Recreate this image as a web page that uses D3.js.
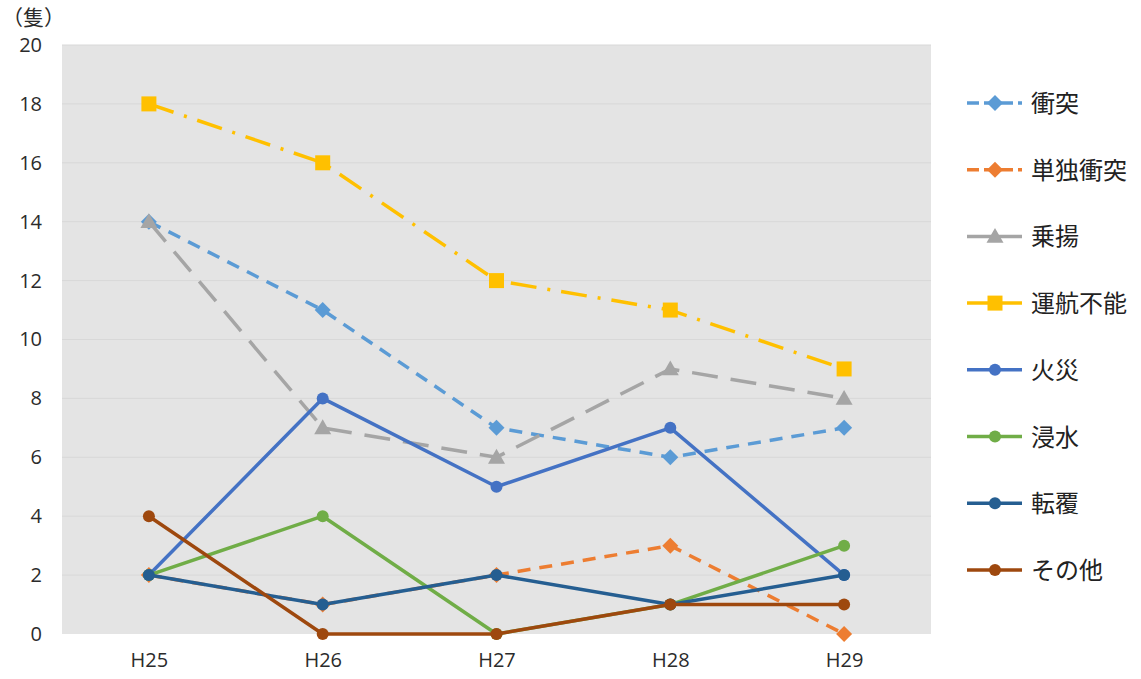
<!DOCTYPE html>
<html lang="ja">
<head>
<meta charset="utf-8">
<script src="https://cdn.jsdelivr.net/npm/d3@7"></script>
<style>
  html, body { margin: 0; padding: 0; background: #ffffff; }
  svg { display: block; font-family: "Noto Sans CJK JP", "Noto Sans", sans-serif; }
</style>
</head>
<body>
<svg id="chart" width="1141" height="679"></svg>
<script>
// Fiscal years (Heisei)
const years = ["H25", "H26", "H27", "H28", "H29"];
const yTicks = [0, 2, 4, 6, 8, 10, 12, 14, 16, 18, 20];

// Accident counts per category (vessels)
const names = ["衝突", "単独衝突", "乗揚", "運航不能", "火災", "浸水", "転覆", "その他"];
const collision      = [14, 11, 7, 6, 7];
const soloCollision  = [2, 1, 2, 3, 0];
const grounding      = [14, 7, 6, 9, 8];
const disabled       = [18, 16, 12, 11, 9];
const fire           = [2, 8, 5, 7, 2];
const flooding       = [2, 4, 0, 1, 3];
const capsize        = [2, 1, 2, 1, 2];
const other          = [4, 0, 0, 1, 1];
const seriesValues = [collision, soloCollision, grounding, disabled, fire, flooding, capsize, other];

// Styling per series
const styles = [
  { color: "#5B9BD5", dash: "13,9",         marker: "diamond" },
  { color: "#ED7D31", dash: "13,9",         marker: "diamond" },
  { color: "#A5A5A5", dash: "26,13",        marker: "triangle" },
  { color: "#FFC000", dash: "26,11,3,11",   marker: "square" },
  { color: "#4472C4", dash: null,           marker: "circle" },
  { color: "#70AD47", dash: null,           marker: "circle" },
  { color: "#255E91", dash: null,           marker: "circle" },
  { color: "#9E480E", dash: null,           marker: "circle" }
];

const svg = d3.select("#chart");
const plot = { left: 62, right: 931, top: 45, bottom: 634 };

const x = d3.scalePoint().domain(years).range([plot.left, plot.right]).padding(0.5);
const y = d3.scaleLinear().domain([0, 20]).range([plot.bottom, plot.top]);

// Plot background
svg.append("rect")
  .attr("x", plot.left).attr("y", plot.top)
  .attr("width", plot.right - plot.left).attr("height", plot.bottom - plot.top)
  .attr("fill", "#e4e4e4");

// Horizontal gridlines
svg.append("g").selectAll("line").data(yTicks.filter(d => d > 0)).join("line")
  .attr("x1", plot.left).attr("x2", plot.right)
  .attr("y1", d => y(d)).attr("y2", d => y(d))
  .attr("stroke", "#d8d8d8").attr("stroke-width", 1);

const tickFont = "'Open Sans', 'Noto Sans', sans-serif";

// Y axis
const yAxis = svg.append("g")
  .attr("transform", `translate(${plot.left},0)`)
  .call(d3.axisLeft(y).tickValues(yTicks).tickSize(0).tickPadding(20));
yAxis.select(".domain").remove();
yAxis.selectAll("text").attr("font-size", 20).attr("fill", "#2b2b2b").attr("font-family", tickFont);

// X axis
const xAxis = svg.append("g")
  .attr("transform", `translate(0,${plot.bottom})`)
  .call(d3.axisBottom(x).tickSize(0).tickPadding(19));
xAxis.select(".domain").remove();
xAxis.selectAll("text").attr("font-size", 20).attr("fill", "#2b2b2b").attr("font-family", tickFont);

// Unit label
svg.append("text").attr("x", 2).attr("y", 25)
  .attr("font-size", 21).attr("fill", "#2b2b2b").text("（隻）");

// Marker drawing
function drawMarker(g, type, color, cx, cy) {
  if (type === "circle") {
    g.append("circle").attr("cx", cx).attr("cy", cy).attr("r", 6).attr("fill", color);
  } else if (type === "diamond") {
    const s = 8;
    g.append("path").attr("d", `M${cx},${cy - s}L${cx + s},${cy}L${cx},${cy + s}L${cx - s},${cy}Z`).attr("fill", color);
  } else if (type === "square") {
    g.append("rect").attr("x", cx - 7.5).attr("y", cy - 7.5).attr("width", 15).attr("height", 15).attr("fill", color);
  } else if (type === "triangle") {
    const s = 8.5;
    g.append("path").attr("d", `M${cx},${cy - s}L${cx + s},${cy + s * 0.75}L${cx - s},${cy + s * 0.75}Z`).attr("fill", color);
  }
}

const line = d3.line().x((d, i) => x(years[i])).y(d => y(d));

seriesValues.forEach((vals, k) => {
  const st = styles[k];
  const g = svg.append("g");
  g.append("path")
    .attr("d", line(vals))
    .attr("fill", "none")
    .attr("stroke", st.color)
    .attr("stroke-width", 3.5)
    .attr("stroke-linejoin", "round")
    .attr("stroke-dasharray", st.dash);
  vals.forEach((v, i) => drawMarker(g, st.marker, st.color, x(years[i]), y(v)));
});

// Legend
const legend = svg.append("g");
names.forEach((name, k) => {
  const st = styles[k];
  const ly = 103 + k * 66.7;
  const g = legend.append("g");
  g.append("line")
    .attr("x1", 967).attr("x2", 1022).attr("y1", ly).attr("y2", ly)
    .attr("stroke", st.color).attr("stroke-width", 3.5)
    .attr("stroke-dasharray", (k === 0 || k === 1) ? "12,5" : null);
  drawMarker(g, st.marker, st.color, 995, ly);
  g.append("text").attr("x", 1031).attr("y", ly + 9)
    .attr("font-size", 24).attr("fill", "#222").text(name);
});
</script>
</body>
</html>
